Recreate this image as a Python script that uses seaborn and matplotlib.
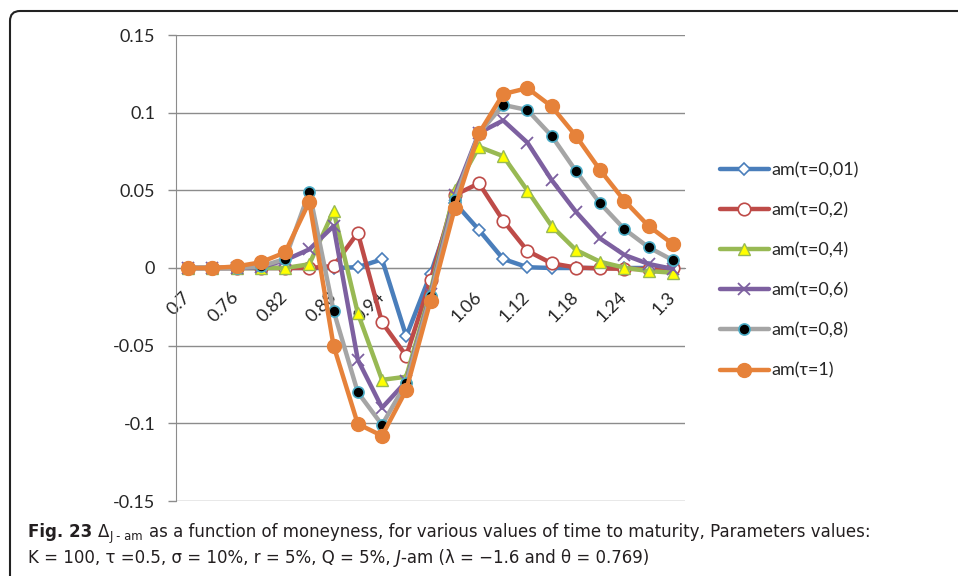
import numpy as np
import matplotlib
matplotlib.use("Agg")
import matplotlib.pyplot as plt
import seaborn as sns
from matplotlib.patches import FancyBboxPatch
from matplotlib.transforms import IdentityTransform

# Data
moneyness = ["0.7", "0.73", "0.76", "0.79", "0.82", "0.85", "0.88", "0.91", "0.94", "0.97",
             "1", "1.03", "1.06", "1.09", "1.12", "1.15", "1.18", "1.21", "1.24", "1.27", "1.3"]
shown_labels = moneyness[::2]

series_names = ["am(τ=0,01)", "am(τ=0,2)", "am(τ=0,4)", "am(τ=0,6)", "am(τ=0,8)", "am(τ=1)"]
am_001 = [0, 0, 0, 0, 0, 0, 0, 0.0005, 0.0056, -0.044, -0.004, 0.042, 0.0245, 0.0058,
          0.0005, 0, 0, 0, 0, 0, 0]
am_02 = [0, 0, 0, 0, 0, 0, 0.0013, 0.0227, -0.035, -0.0566, -0.008, 0.047, 0.0545, 0.0305,
         0.011, 0.003, 0.0003, -0.0003, -0.0005, -0.0008, 0]
am_04 = [0, 0, 0, 0, 0, 0.0024, 0.0367, -0.029, -0.072, -0.070, -0.015, 0.05, 0.078, 0.072,
         0.0498, 0.027, 0.0116, 0.004, 0.0002, -0.002, -0.003]
am_06 = [0, 0, 0, 0.0005, 0.005, 0.012, 0.027, -0.059, -0.090, -0.073, -0.017, 0.047, 0.087,
         0.095, 0.0807, 0.0566, 0.0362, 0.019, 0.0084, 0.0026, -0.0006]
am_08 = [0, 0, 0, 0.001, 0.0058, 0.049, -0.0275, -0.080, -0.101, -0.074, -0.018, 0.044, 0.0867,
         0.105, 0.1017, 0.085, 0.0624, 0.0416, 0.025, 0.0133, 0.005]
am_1 = [0, 0, 0.001, 0.0037, 0.010, 0.0427, -0.050, -0.1004, -0.108, -0.0785, -0.021, 0.0384,
        0.0867, 0.112, 0.1158, 0.104, 0.085, 0.063, 0.0433, 0.027, 0.0154]
series_values = [am_001, am_02, am_04, am_06, am_08, am_1]

y_ticks = [-0.15, -0.1, -0.05, 0, 0.05, 0.1, 0.15]
y_tick_labels = ["-0.15", "-0.1", "-0.05", "0", "0.05", "0.1", "0.15"]

styles = [
    dict(color="#4A7EBB", marker="D", markersize=6, markerfacecolor="white", markeredgecolor="#4A7EBB", markeredgewidth=1.2),
    dict(color="#BE4B48", marker="o", markersize=9, markerfacecolor="white", markeredgecolor="#BE4B48", markeredgewidth=1.2),
    dict(color="#98B954", marker="^", markersize=9, markerfacecolor="#FFFF00", markeredgecolor="#98B954", markeredgewidth=1.0),
    dict(color="#7D60A0", marker="x", markersize=8, markerfacecolor="#7D60A0", markeredgecolor="#7D60A0", markeredgewidth=1.3),
    dict(color="#A5A5A5", marker="o", markersize=8, markerfacecolor="black", markeredgecolor="#4BACC6", markeredgewidth=1.2),
    dict(color="#E6823A", marker="o", markersize=10, markerfacecolor="#E6823A", markeredgecolor="#E6823A", markeredgewidth=1.0),
]

sns.set_style("white")
plt.rcParams["font.family"] = ["Lato", "DejaVu Sans"]
grey = "#8C8C8C"

fig = plt.figure(figsize=(9.58, 5.76), dpi=100)
ax = fig.add_axes([176 / 958, 1 - 501 / 576, 509 / 958, 466 / 576])

pos = np.arange(len(moneyness))
for name, vals, st in zip(series_names, series_values, styles):
    sns.lineplot(x=pos, y=vals, ax=ax, label=name, linewidth=3.2, errorbar=None, zorder=3, **st)

ax.set_xlim(-0.5, len(moneyness) - 0.5)
ax.set_ylim(-0.15, 0.15)
ax.set_yticks(y_ticks, y_tick_labels)
ax.set_xticks(pos[::2], shown_labels)
ax.set_xticks(np.arange(-0.5, len(moneyness), 1), minor=True)
ax.set_xlabel("")
ax.set_ylabel("")
ax.set_axisbelow(True)

ax.spines["bottom"].set_position(("data", 0))
ax.spines["bottom"].set_color(grey)
ax.spines["left"].set_color(grey)
ax.spines["top"].set_visible(False)
ax.spines["right"].set_visible(False)
ax.grid(axis="y", color=grey, linewidth=1)
ax.grid(axis="x", visible=False)

ax.tick_params(axis="x", which="major", length=0, pad=19, labelsize=13)
ax.tick_params(axis="x", which="minor", length=5, width=1, color=grey, direction="out")
ax.tick_params(axis="y", length=6, width=1, color=grey, direction="out", pad=9, labelsize=13, left=True)
for lbl in ax.get_xticklabels():
    lbl.set_rotation(45)
    lbl.set_ha("right")
    lbl.set_va("center")
    lbl.set_rotation_mode("anchor")

ax.legend(loc="upper left", bbox_to_anchor=(720 / 958, 1 - 162 / 576), bbox_transform=fig.transFigure,
          frameon=False, fontsize=13, handlelength=2.7, handletextpad=0.15, labelspacing=1.33,
          borderpad=0, borderaxespad=0)

# rounded frame around the figure
frame = FancyBboxPatch((10, -30), 980, 595, boxstyle="round,pad=0,rounding_size=10",
                       transform=IdentityTransform(), fill=False, edgecolor="#222222", linewidth=1.5)
fig.patches.append(frame)

# caption, written piece by piece
fig.canvas.draw()
renderer = fig.canvas.get_renderer()
cap_font = ["DejaVu Sans"]
cap_color = "#231F20"
cap_size = 12


def put(x, y, s, **kw):
    t = fig.text(x, 576 - y, s, transform=IdentityTransform(), va="baseline",
                 family=cap_font, color=cap_color, **kw)
    return x + t.get_window_extent(renderer).width


probe1 = fig.text(0, 0, "x x", family=cap_font, fontsize=cap_size)
probe2 = fig.text(0, 0, "xx", family=cap_font, fontsize=cap_size)
space = probe1.get_window_extent(renderer).width - probe2.get_window_extent(renderer).width
probe1.remove()
probe2.remove()

x = put(28, 537, "Fig. 23", fontsize=cap_size, fontweight="bold")
x = put(x + space, 537, "Δ", fontsize=cap_size)
x = put(x + 1, 540, "J - am", fontsize=cap_size * 0.7)
put(x + space, 537, "as a function of moneyness, for various values of time to maturity, Parameters values:",
    fontsize=cap_size)

x = put(28, 563, "K = 100, τ =0.5, σ = 10%, r = 5%, Q = 5%,", fontsize=cap_size)
x = put(x + space, 563, "J", fontsize=cap_size, style="italic")
put(x, 563, "-am (λ = −1.6 and θ = 0.769)", fontsize=cap_size)

fig.savefig("out.png", dpi=100)
